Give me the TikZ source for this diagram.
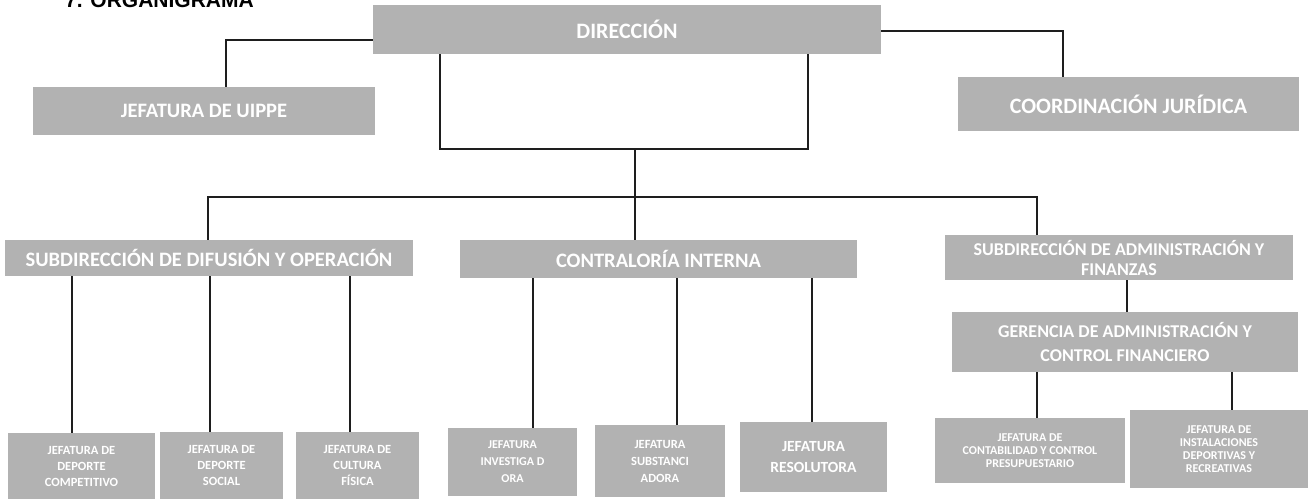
\documentclass[tikz,border=0pt]{standalone}
\usepackage{fontspec}
\setmainfont{Carlito}
\newfontfamily\titlefont{Liberation Sans}
\definecolor{boxgray}{RGB}{178,178,178}
\definecolor{linecol}{RGB}{30,30,30}
\newcommand{\fsz}[2]{\fontsize{#1}{#2}\selectfont\bfseries}
\tikzset{
  box/.style={fill=boxgray, text=white, align=center, inner sep=0pt, anchor=center},
  conn/.style={draw=linecol, line width=1.2pt}
}
\begin{document}
\begin{tikzpicture}[x=1pt,y=-1pt]
\useasboundingbox (0,0) rectangle (1314,499);
% title (cut off at the top)
\node[anchor=base west, inner sep=0pt, font=\titlefont\bfseries\fontsize{21}{22}\selectfont] (title) at (65,7.5) {7. ORGANIGRAMA};
% level 0
\node[box, font=\fsz{22}{24}, minimum width=508pt, minimum height=49pt] (dir) at (627,29.5) {DIRECCIÓN};
% level 1
\node[box, font=\fsz{20.5}{22}, minimum width=342pt, minimum height=48pt] (uippe) at (204,111) {JEFATURA DE UIPPE};
\node[box, font=\fsz{22}{24}, minimum width=341pt, minimum height=54pt] (coord) at (1128.5,104) {COORDINACIÓN JURÍDICA};
% level 2
\node[box, font=\fsz{20.5}{22}, minimum width=408pt, minimum height=36pt] (subdif) at (209,258) {SUBDIRECCIÓN DE DIFUSIÓN Y OPERACIÓN};
\node[box, font=\fsz{20.5}{22}, minimum width=397pt, minimum height=38pt] (contral) at (658.5,259) {CONTRALORÍA INTERNA};
\node[box, font=\fsz{18}{20}, minimum width=348pt, minimum height=45pt] (subadm) at (1119,257.5) {SUBDIRECCIÓN DE ADMINISTRACIÓN Y\\FINANZAS};
\node[box, font=\fsz{18}{24}, minimum width=346pt, minimum height=60pt] (geren) at (1125,342) {GERENCIA DE ADMINISTRACIÓN Y\\CONTROL FINANCIERO};
% bottom level
\node[box, font=\fsz{12.5}{16}, minimum width=147pt, minimum height=66pt] (b1) at (81.5,466) {JEFATURA DE\\DEPORTE\\COMPETITIVO};
\node[box, font=\fsz{12.5}{16}, minimum width=123pt, minimum height=67pt] (b2) at (221.5,465.5) {JEFATURA DE\\DEPORTE\\SOCIAL};
\node[box, font=\fsz{12.5}{16}, minimum width=123pt, minimum height=67pt] (b3) at (357.5,465.5) {JEFATURA DE\\CULTURA\\FÍSICA};
\node[box, font=\fsz{12}{17}, minimum width=129pt, minimum height=68pt] (b4) at (512.5,462) {JEFATURA\\INVESTIGA D\\ORA};
\node[box, font=\fsz{12.5}{17}, minimum width=130pt, minimum height=72pt] (b5) at (660,461) {JEFATURA\\SUBSTANCI\\ADORA};
\node[box, font=\fsz{15.5}{21}, minimum width=147pt, minimum height=70pt] (b6) at (813.5,457) {JEFATURA\\RESOLUTORA};
\node[box, font=\fsz{12}{13}, minimum width=190pt, minimum height=65pt] (b7) at (1030,450.5) {JEFATURA DE\\CONTABILIDAD Y CONTROL\\PRESUPUESTARIO};
\node[box, font=\fsz{12}{13}, minimum width=178pt, minimum height=78pt] (b8) at (1219,449) {JEFATURA DE\\INSTALACIONES\\DEPORTIVAS Y\\RECREATIVAS};
% bus coordinates
\coordinate (jl) at (440,149);
\coordinate (jr) at (808,149);
\coordinate (jm) at (635,149);
\coordinate (bus) at (635,197);
% connectors level 0 -> 1
\draw[conn] (dir.west |- 0,40) -| (uippe.north -| 226,0);
\draw[conn] (dir.east |- 0,31) -| (coord.north -| 1063,0);
\draw[conn] (dir.south -| jl) -- (jl) -- (jr) -- (dir.south -| jr);
\draw[conn] (jm) -- (bus);
% bus to level 2
\draw[conn] (subdif.north -| 208,0) |- (bus);
\draw[conn] (bus) -- (contral.north -| bus);
\draw[conn] (bus) -| (subadm.north -| 1037,0);
% subdif children
\draw[conn] (subdif.south -| 72,0) -- (b1.north -| 72,0);
\draw[conn] (subdif.south -| 210,0) -- (b2.north -| 210,0);
\draw[conn] (subdif.south -| 350,0) -- (b3.north -| 350,0);
% contraloria children
\draw[conn] (contral.south -| 533,0) -- (b4.north -| 533,0);
\draw[conn] (contral.south -| 677,0) -- (b5.north -| 677,0);
\draw[conn] (contral.south -| 812,0) -- (b6.north -| 812,0);
% subadm -> gerencia
\draw[conn] (subadm.south -| 1127,0) -- (geren.north -| 1127,0);
% gerencia children
\draw[conn] (geren.south -| 1037,0) -- (b7.north -| 1037,0);
\draw[conn] (geren.south -| 1232,0) -- (b8.north -| 1232,0);
\end{tikzpicture}
\end{document}
